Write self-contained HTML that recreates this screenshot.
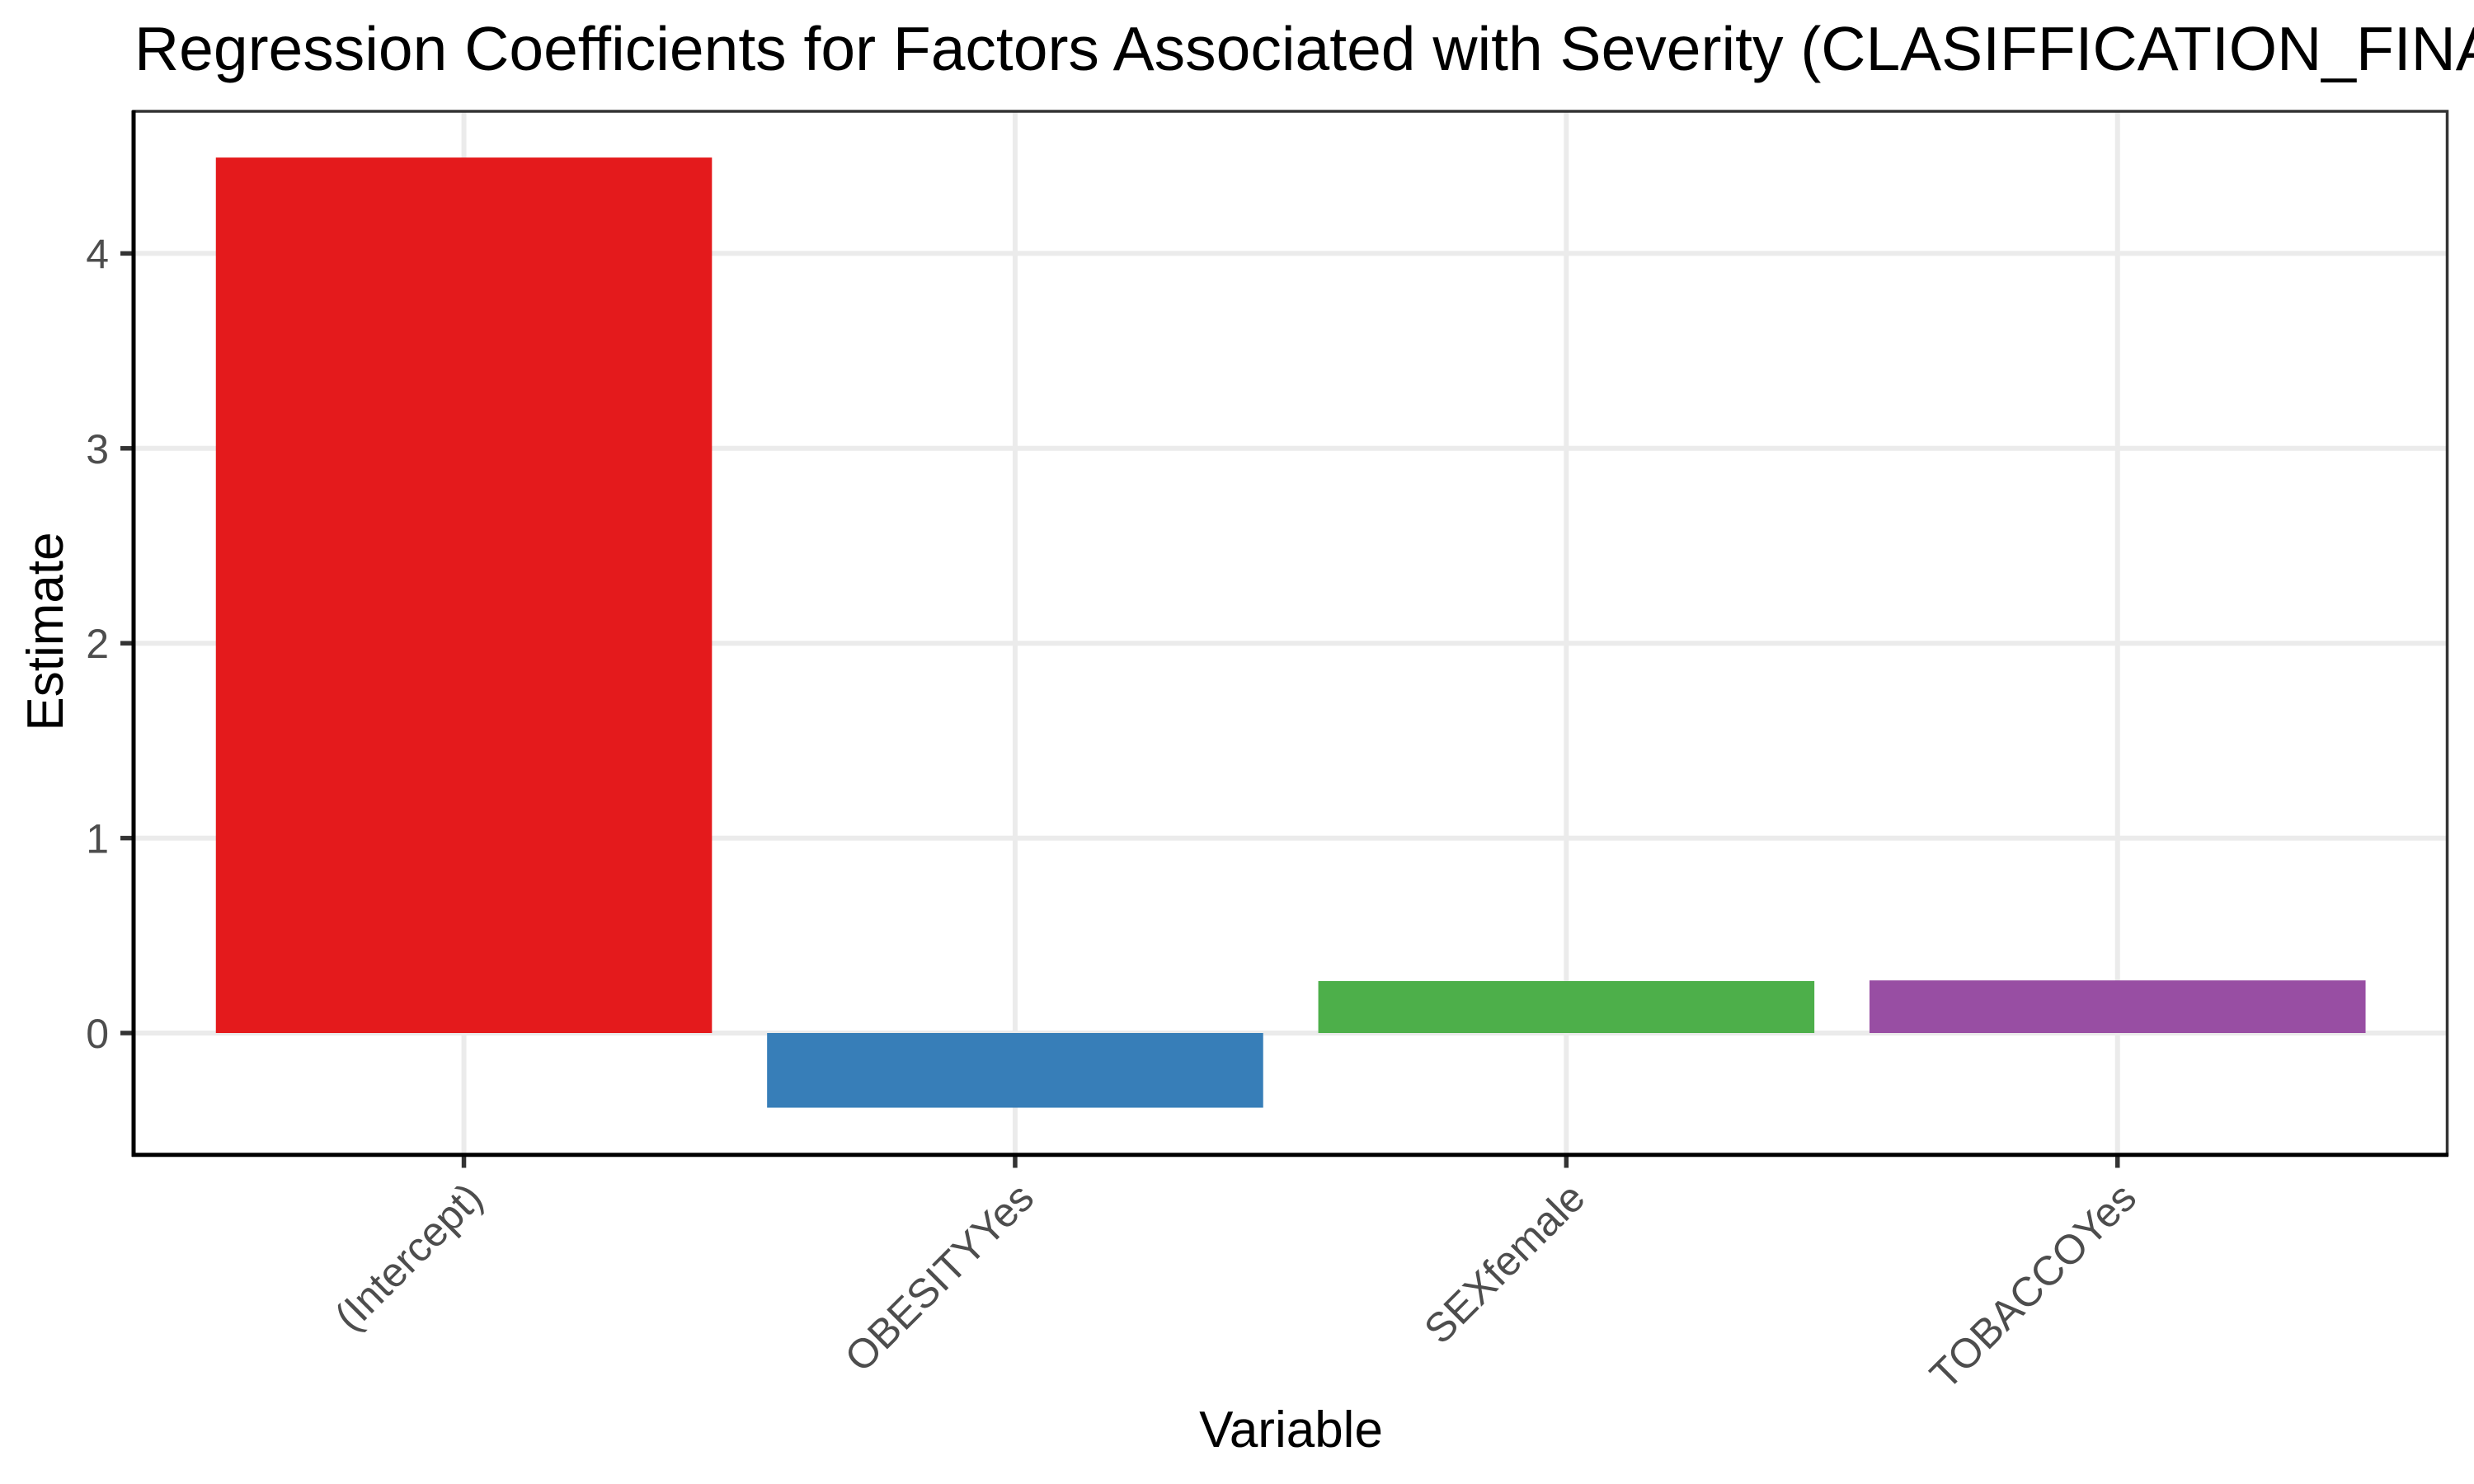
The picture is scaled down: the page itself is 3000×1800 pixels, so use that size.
<!DOCTYPE html>
<html lang="en">
<head>
<meta charset="utf-8">
<title>Regression Coefficients</title>
<style>
html,body{margin:0;padding:0;background:#fff;width:3000px;height:1800px;overflow:hidden}
svg{display:block;font-family:"Liberation Sans",Arial,sans-serif}
</style>
</head>
<body>
<svg id="chart" xmlns="http://www.w3.org/2000/svg" width="3000" height="1800" viewBox="0 0 3000 1800">
<rect x="0" y="0" width="3000" height="1800" fill="#ffffff"/>
<text x="163" y="85" font-size="75" fill="#000000">Regression Coefficients for Factors Associated with Severity (CLASIFFICATION_FINAL)</text>
<text x="1565.5" y="1755" font-size="62" text-anchor="middle" fill="#000000">Variable</text>
<text x="76" y="766" font-size="62" text-anchor="middle" fill="#000000" transform="rotate(-90 76 766)">Estimate</text>
<g id="grid"></g>
<g id="bars"></g>
<g id="ticks"></g>
<g id="labels"></g>
<rect x="162" y="135" width="2805.5" height="1265.5" fill="none" stroke="#333333" stroke-width="3.5"/>
<line x1="160" y1="1400.7" x2="2969" y2="1400.7" stroke="#000000" stroke-width="5"/>
<line x1="162" y1="134" x2="162" y2="1403" stroke="#000000" stroke-width="5"/>
</svg>
<script>
const categories = ["(Intercept)", "OBESITYYes", "SEXfemale", "TOBACCOYes"];
const estimates = [4.492, -0.383, 0.2665, 0.27];
const barColors = ["#E41A1C", "#377EB8", "#4DAF4A", "#984EA3"];
const yTicks = [0, 1, 2, 3, 4];

const NS = "http://www.w3.org/2000/svg";
const panel = { left: 161.5, right: 2968.8, top: 135, bottom: 1400.5 };
const yZero = 1253;
const yUnit = 236.4;
const bandStep = (panel.right - panel.left) / (categories.length + 0.2);

function xScale(i) {
  return panel.left + bandStep * (0.6 + i);
}
function yScale(v) {
  return yZero - v * yUnit;
}
function make(tag, attrs, parent) {
  const el = document.createElementNS(NS, tag);
  for (const k in attrs) el.setAttribute(k, attrs[k]);
  parent.appendChild(el);
  return el;
}

const gGrid = document.getElementById("grid");
const gBars = document.getElementById("bars");
const gTicks = document.getElementById("ticks");
const gLabels = document.getElementById("labels");

yTicks.forEach(function (t) {
  const y = yScale(t);
  const grid = make("line", { x1: panel.left, x2: 2967, y1: y, y2: y, stroke: "#ebebeb", "stroke-width": 6 }, gGrid);
  
  
  const tick = make("line", { x1: 146, x2: panel.left, y1: y, y2: y, stroke: "#333333", "stroke-width": 5.5 }, gTicks);
  
  
  const label = make("text", { x: 132, y: y + 18, "font-size": 50, "text-anchor": "end", fill: "#4d4d4d" }, gLabels);
  label.textContent = String(t);
  
  
});

categories.forEach(function (c, i) {
  const x = xScale(i);
  const grid = make("line", { x1: x, x2: x, y1: panel.top, y2: panel.bottom, stroke: "#ebebeb", "stroke-width": 6 }, gGrid);
  
  

  const y0 = yScale(0);
  const yv = yScale(estimates[i]);
  const w = bandStep * 0.9;
  const bar = make("rect", { x: x - w / 2, y: Math.min(y0, yv), width: w, height: Math.abs(yv - y0), fill: barColors[i] }, gBars);
  
  

  const tick = make("line", { x1: x, x2: x, y1: panel.bottom, y2: panel.bottom + 16, stroke: "#333333", "stroke-width": 5.5 }, gTicks);
  
  

  const lx = x + 25.5;
  const ly = 1456;
  const label = make("text", { x: lx, y: ly, "font-size": 50, "text-anchor": "end", fill: "#4d4d4d", transform: "rotate(-45 " + lx + " " + ly + ")" }, gLabels);
  label.textContent = c;
  
  
});
</script>
</body>
</html>
